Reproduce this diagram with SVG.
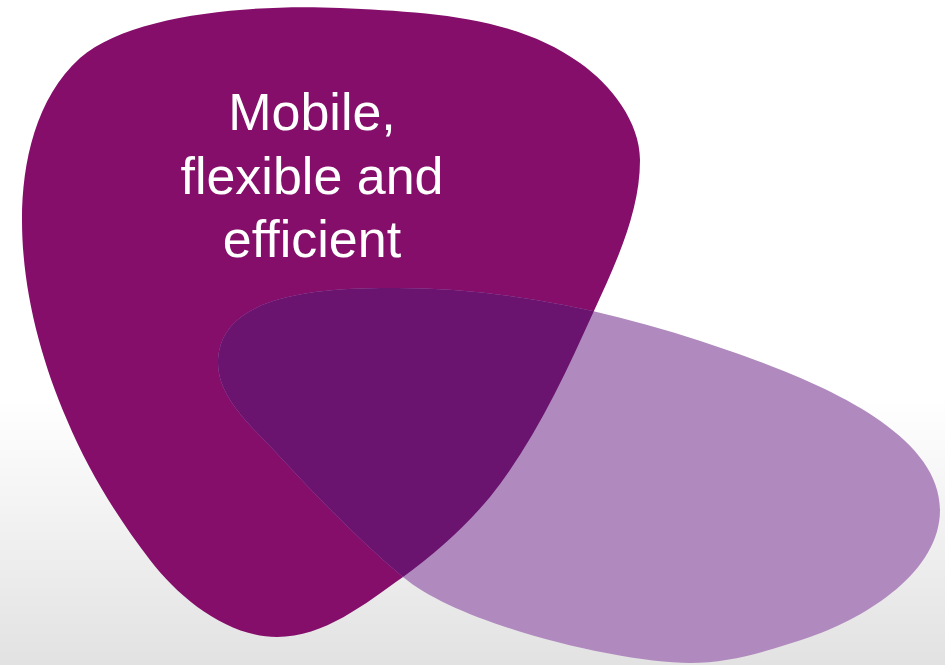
<svg xmlns="http://www.w3.org/2000/svg" width="945" height="665" viewBox="0 0 945 665">
  <defs>
    <linearGradient id="bg" x1="0" y1="0" x2="0" y2="665" gradientUnits="userSpaceOnUse">
      <stop offset="0.6" stop-color="#FFFFFF"/>
      <stop offset="1" stop-color="#E2E2E2"/>
    </linearGradient>
    <path id="shieldPath" d="M 340,8 C 422,12 514,15 580,63 C 611,85 640,122 640,160 C 640,213 615,265 593,313 C 564,377 534,442 490,497 C 465,527 435,554 403,577 C 365,604 324,637 277,637 C 228,637 180,599 150,560 C 117,517 88,470 67,420 C 40,357 22,288 22,220 C 22,162 36,98 80,58 C 130,14 253,4 340,8 Z"/>
    <path id="eggPath" d="M 218,363 C 218,290 332,288 397,288 C 509,288 622,313 727,350 C 811,379 940,430 940,510 C 940,571 868,617 810,637 C 771,650 731,663 690,663 C 620,663 460,625 403,577 C 360,541 321,501 283,460 C 257,431 218,400 218,363 Z"/>
    <clipPath id="shieldClip">
      <use href="#shieldPath"/>
    </clipPath>
  </defs>
  <style>
    .label { font-family: "Liberation Sans", Arial, sans-serif; font-size: 52px; fill: #FFFFFF; text-anchor: middle; }
  </style>
  <rect x="0" y="0" width="945" height="665" fill="url(#bg)"/>
  <g id="node-mobile">
    <use href="#shieldPath" fill="#850E6B"/>
  </g>
  <g id="node-ellipse">
    <use href="#eggPath" fill="#B08ABE"/>
    <use href="#eggPath" fill="#6A1470" clip-path="url(#shieldClip)"/>
  </g>
  <g id="node-mobile-label">
    <text class="label" x="312" y="130">Mobile,</text>
    <text class="label" x="312" y="194">flexible and</text>
    <text class="label" x="312" y="257">efficient</text>
  </g>
  <g id="connectors"/>
</svg>
